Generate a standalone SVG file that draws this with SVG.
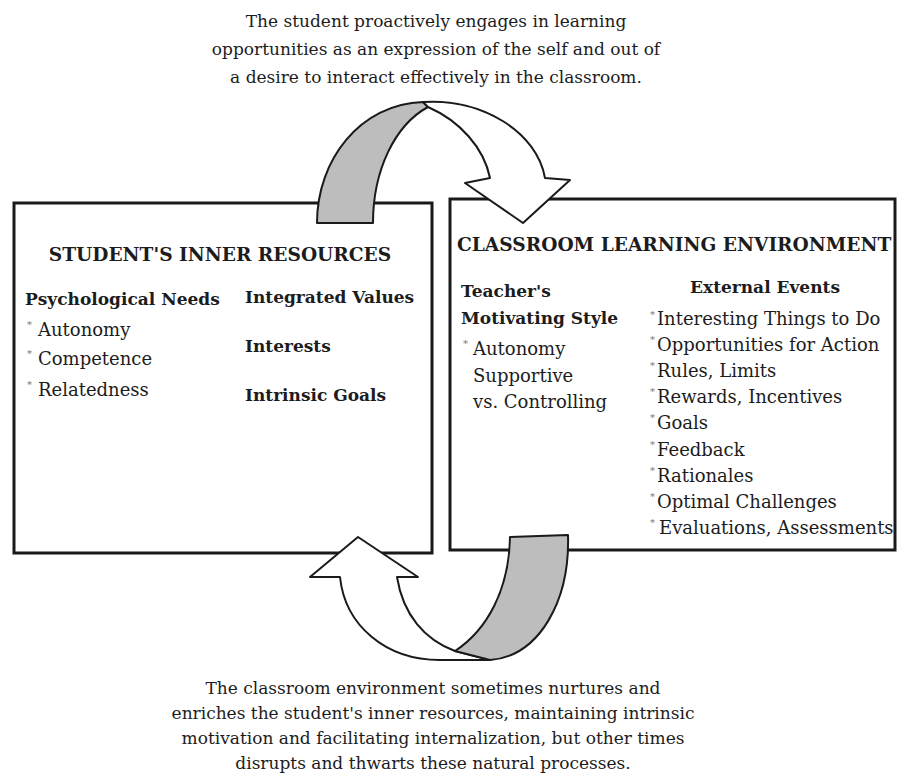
<svg xmlns="http://www.w3.org/2000/svg" width="897" height="773" viewBox="0 0 897 773">
  <style>
    text { font-family: "DejaVu Serif", "Liberation Serif", serif; fill: #1c1c1c; font-size: 18px; }
    .para { font-size: 17px; text-anchor: middle; }
    .cap { text-anchor: middle; }
    .head { font-weight: bold; font-size: 17px; }
    .title { font-weight: bold; font-size: 18.6px; }
    .star { font-size: 10px; fill: #777; }
    .box { fill: #ffffff; stroke: #1a1a1a; stroke-width: 3; }
    .band { stroke: #1a1a1a; stroke-width: 2; stroke-linejoin: round; }
    .light { fill: #ffffff; }
    .shade { fill: #bdbdbd; }
  </style>

  <rect width="897" height="773" fill="#ffffff"/>

  <!-- Left box: inner resources -->
  <g id="inner-resources">
    <rect class="box" x="14" y="203" width="418" height="350"/>
    <text class="title cap" x="220" y="261">STUDENT'S INNER RESOURCES</text>
    <text class="head" x="25" y="305">Psychological Needs</text>
    <text class="star" x="27" y="328">*</text>
    <text x="38" y="336">Autonomy</text>
    <text class="star" x="27" y="357">*</text>
    <text x="38" y="365">Competence</text>
    <text class="star" x="27" y="388">*</text>
    <text x="38" y="396">Relatedness</text>
    <text class="head" x="245" y="303">Integrated Values</text>
    <text class="head" x="245" y="352">Interests</text>
    <text class="head" x="245" y="401">Intrinsic Goals</text>
  </g>

  <!-- Right box: classroom environment -->
  <g id="learning-environment">
    <rect class="box" x="450" y="199" width="445" height="351"/>
    <text class="title" x="457" y="251">CLASSROOM LEARNING ENVIRONMENT</text>
    <text class="head" x="461" y="297">Teacher's</text>
    <text class="head" x="461" y="324">Motivating Style</text>
    <text class="star" x="463" y="347">*</text>
    <text x="473" y="355">Autonomy</text>
    <text x="473" y="382">Supportive</text>
    <text x="473" y="408">vs. Controlling</text>
    <text class="head cap" x="765" y="293">External Events</text>
    <g>
      <text class="star" x="650" y="318">*</text>
      <text x="657" y="325">Interesting Things to Do</text>
      <text class="star" x="650" y="343">*</text>
      <text x="657" y="351">Opportunities for Action</text>
      <text class="star" x="650" y="369">*</text>
      <text x="657" y="377">Rules, Limits</text>
      <text class="star" x="650" y="395">*</text>
      <text x="657" y="403">Rewards, Incentives</text>
      <text class="star" x="650" y="421">*</text>
      <text x="657" y="429">Goals</text>
      <text class="star" x="650" y="448">*</text>
      <text x="657" y="456">Feedback</text>
      <text class="star" x="650" y="474">*</text>
      <text x="657" y="482">Rationales</text>
      <text class="star" x="650" y="500">*</text>
      <text x="657" y="508">Optimal Challenges</text>
      <text class="star" x="650" y="526">*</text>
      <text x="659" y="534">Evaluations, Assessments</text>
    </g>
  </g>

  <!-- Curved ribbon arrows linking the two boxes -->
  <g id="connectors">
    <!-- top: inner resources -> environment -->
    <path class="band shade" d="M317,223 C317,160 360,104 423,102 L428,107 C395,125 373,170 373,223 Z"/>
    <path class="band light" d="M423,102 C482,98 537,132 545,178 L570,180 L523,223 L465,183 L490,178 C484,148 460,121 428,107 Z"/>
    <!-- bottom: environment -> inner resources -->
    <path class="band light" d="M358,537 L418,577 L397,577 C403,615 425,640 455,651 L490,660 L440,660 C385,660 345,625 340,577 L310,577 Z"/>
    <path class="band shade" d="M510,537 L568,535 C570,600 540,656 490,660 L455,651 C487,630 509,590 510,537 Z"/>
  </g>

  <!-- Caption above -->
  <g id="caption-top">
    <text class="para" x="436" y="27">The student proactively engages in learning</text>
    <text class="para" x="436" y="55">opportunities as an expression of the self and out of</text>
    <text class="para" x="436" y="83">a desire to interact effectively in the classroom.</text>
  </g>

  <!-- Caption below -->
  <g id="caption-bottom">
    <text class="para" x="433" y="694">The classroom environment sometimes nurtures and</text>
    <text class="para" x="433" y="719">enriches the student's inner resources, maintaining intrinsic</text>
    <text class="para" x="433" y="744">motivation and facilitating internalization, but other times</text>
    <text class="para" x="433" y="769">disrupts and thwarts these natural processes.</text>
  </g>
</svg>
